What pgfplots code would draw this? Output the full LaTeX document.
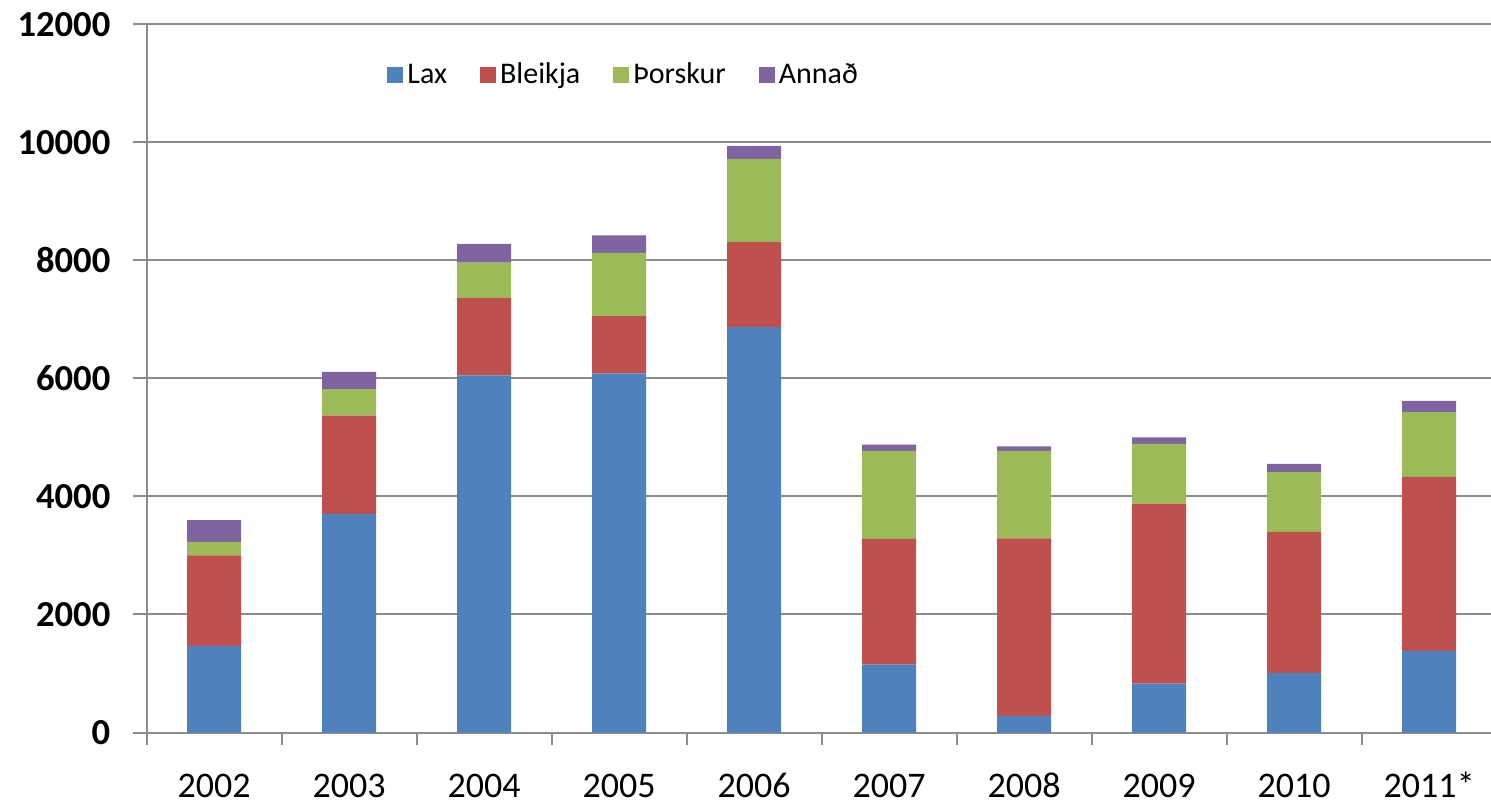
\documentclass[border=0pt]{standalone}
\usepackage{pgfplots}
\pgfplotsset{compat=1.18}
\usepackage{fontspec}
\setmainfont{Carlito}
\definecolor{cLax}{HTML}{4F81BD}
\definecolor{cBle}{HTML}{C0504D}
\definecolor{cThor}{HTML}{9BBB59}
\definecolor{cAnn}{HTML}{8064A2}
\definecolor{gridgray}{HTML}{8C8C8C}
\begin{document}
\begin{tikzpicture}
\begin{axis}[
  name=ax,
  at={(0pt,0pt)}, anchor=south west,
  scale only axis,
  width=672.15pt, height=354.1pt,
  ybar stacked, bar width=0.4,
  xmin=-0.5, xmax=9.458,
  ymin=0, ymax=12000,
  scaled y ticks=false,
  axis x line*=bottom, axis y line*=left,
  axis line style={gridgray, line width=1pt, -},
  xtick={0,...,9},
  xticklabels={2002,2003,2004,2005,2006,2007,2008,2009,2010,2011*},
  major x tick style={draw=none},
  minor xtick={-0.5,0.5,...,8.5},
  minor tick length=6pt,
  minor x tick style={gridgray, line width=1pt},
  ytick={0,2000,...,12000},
  ymajorgrids,
  grid style={gridgray, line width=1pt},
  major tick length=7pt,
  tick align=outside,
  ytick style={gridgray, line width=1pt},
  /pgf/number format/1000 sep={},
  /pgf/number format/assume math mode=true,
  yticklabel style={font=\fontsize{18.3pt}{20pt}\selectfont\bfseries, anchor=east, inner sep=0pt, xshift=-11pt},
  xticklabel style={font=\fontsize{18pt}{20pt}\selectfont, anchor=base, inner sep=0pt, yshift=-25.5pt},
  legend columns=4,
  legend style={draw=none, fill=none, at={(rel axis cs:0.1788,0.9284)}, anchor=west, inner sep=0pt,
    font=\fontsize{15pt}{17pt}\selectfont,
    /tikz/every even column/.append style={column sep=14.5pt}},
  legend image code/.code={\fill[#1] (0pt,-4pt) rectangle (8pt,4pt);},
  legend cell align=left,
]
\addplot[fill=cLax, draw=none] coordinates {(0,1470) (1,3700) (2,6050) (3,6085) (4,6870) (5,1150) (6,280) (7,830) (8,1010) (9,1380)};
\addplot[fill=cBle, draw=none] coordinates {(0,1530) (1,1670) (2,1310) (3,970) (4,1440) (5,2130) (6,3010) (7,3050) (8,2390) (9,2950)};
\addplot[fill=cThor, draw=none] coordinates {(0,230) (1,450) (2,600) (3,1070) (4,1410) (5,1490) (6,1480) (7,1010) (8,1010) (9,1100)};
\addplot[fill=cAnn, draw=none] coordinates {(0,370) (1,290) (2,320) (3,300) (4,220) (5,110) (6,80) (7,110) (8,140) (9,190)};
\legend{Lax, Bleikja, Þorskur, Annað}
\end{axis}
\pgfresetboundingbox
\path (-73.35pt,-36.25pt) rectangle (672.15pt,366.25pt);
\end{tikzpicture}
\end{document}
